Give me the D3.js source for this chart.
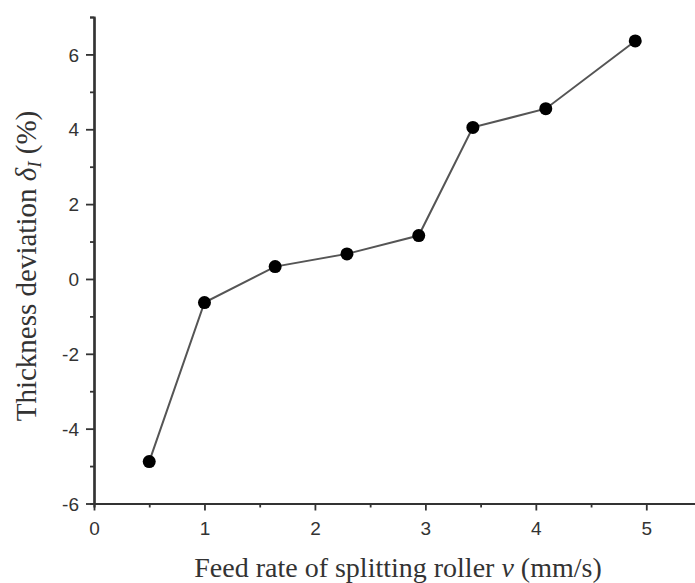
<!DOCTYPE html>
<html><head><meta charset="utf-8">
<script src="https://cdn.jsdelivr.net/npm/d3@7"></script>
<style>body{margin:0;background:#fff}svg{display:block}</style>
</head><body>
<script>
const feedRate = [0.5, 1.0, 1.64, 2.29, 2.94, 3.43, 4.09, 4.90];
const deviation = [-4.88, -0.63, 0.33, 0.67, 1.16, 4.05, 4.55, 6.36];
const xTicks = [0, 1, 2, 3, 4, 5];
const yTicks = [-6, -4, -2, 0, 2, 4, 6];

const W = 695, H = 583;
const svg = d3.select("body").append("svg").attr("width", W).attr("height", H);
const x = d3.scaleLinear().domain([0, 5.45]).range([94, 696]);
const y = d3.scaleLinear().domain([-6, 7]).range([503.5, 17]);

const axisColor = "#333";
const fmt = d => String(d);
// x axis
const xAxis = svg.append("g").attr("transform", `translate(0,${y(-6)})`);
xAxis.call(d3.axisBottom(x).tickValues(xTicks).tickSize(7).tickSizeOuter(0).tickFormat(fmt));
xAxis.append("g").call(d3.axisBottom(x).tickValues(d3.range(0.5, 5.5, 1)).tickSize(4).tickFormat(""));
// y axis
const yAxis = svg.append("g").attr("transform", `translate(${x(0)},0)`);
yAxis.call(d3.axisLeft(y).tickValues(yTicks).tickSize(8).tickSizeOuter(0).tickFormat(fmt));
yAxis.append("g").call(d3.axisLeft(y).tickValues([-5, -3, -1, 1, 3, 5, 7]).tickSize(4).tickFormat(""));

svg.selectAll(".domain").attr("stroke", axisColor).attr("stroke-width", 2.2);
svg.selectAll(".tick line").attr("stroke", axisColor).attr("stroke-width", 1.8);
svg.selectAll(".tick text").attr("fill", "#333").style("font-family", "Liberation Sans, Arial, sans-serif").style("font-size", "19px");
xAxis.selectAll(".tick text").attr("y", 31).attr("dy", "0");
yAxis.selectAll(".tick text").attr("x", -15).attr("dy", "0.35em");

// line and points
const data = feedRate.map((v, i) => ({v, d: deviation[i]}));
svg.append("path").datum(data)
  .attr("fill", "none").attr("stroke", "#555").attr("stroke-width", 2)
  .attr("d", d3.line().x(p => x(p.v)).y(p => y(p.d)));
svg.selectAll("circle.pt").data(data).enter().append("circle")
  .attr("class", "pt").attr("cx", p => x(p.v)).attr("cy", p => y(p.d)).attr("r", 6.5).attr("fill", "#000");

// axis titles
const serif = "Liberation Serif, Times New Roman, serif";
const xt = svg.append("text").attr("x", 398).attr("y", 577).attr("text-anchor", "middle")
  .style("font-family", serif).style("font-size", "28px").attr("fill", "#333");
xt.append("tspan").text("Feed rate of splitting roller ");
xt.append("tspan").style("font-style", "italic").text("v");
xt.append("tspan").text(" (mm/s)");

const yt = svg.append("text").attr("transform", "translate(36,266) rotate(-90)").attr("text-anchor", "middle")
  .style("font-family", serif).style("font-size", "29px").attr("fill", "#333");
yt.append("tspan").text("Thickness deviation ");
yt.append("tspan").style("font-style", "italic").text("δ");
yt.append("tspan").style("font-style", "italic").style("font-size", "19px").attr("dy", "5").text("I");
yt.append("tspan").attr("dy", "-5").text(" (%)");
</script>
</body></html>
